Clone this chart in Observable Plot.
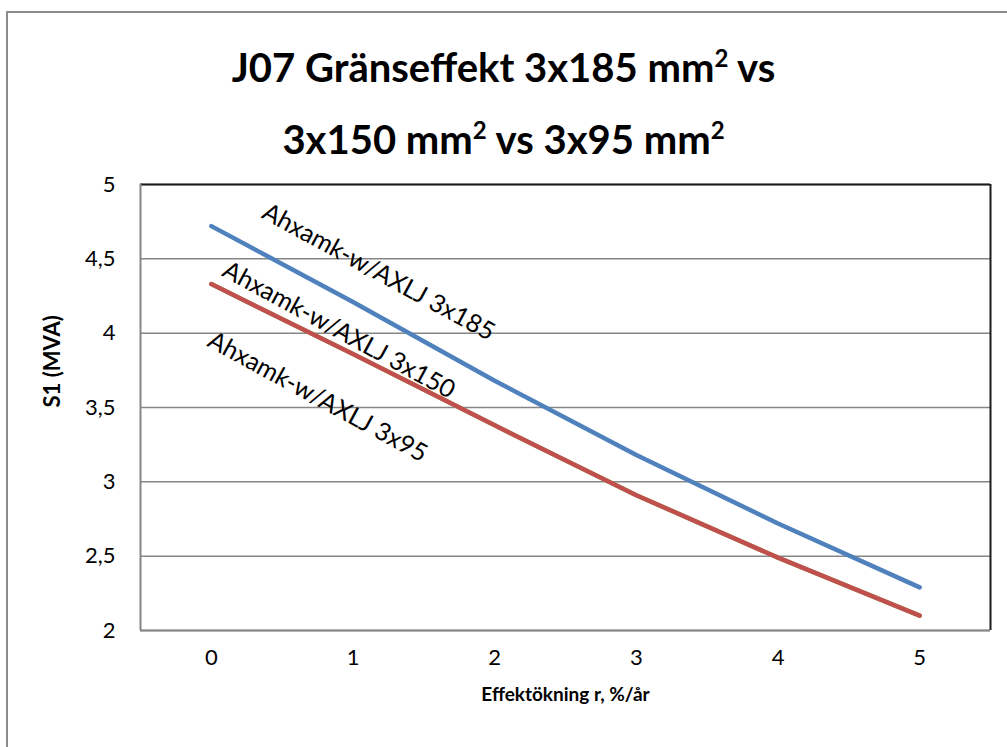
<!DOCTYPE html>
<html><head><meta charset="utf-8">
<script src="https://cdn.jsdelivr.net/npm/d3@7"></script>
<script src="https://cdn.jsdelivr.net/npm/@observablehq/plot@0.6"></script>
<style>
html,body{margin:0;padding:0;background:#fff;overflow:hidden;width:1007px;height:747px;}
#border{position:absolute;left:6px;top:11px;width:1100px;height:800px;border:2px solid #8c8c8c;box-sizing:border-box;}
#title{position:absolute;left:0;top:0;width:1007px;text-align:center;font-family:Lato,sans-serif;font-weight:bold;font-size:40px;line-height:72px;padding-top:31px;color:#000;}
#title sup{font-size:60%;line-height:0;vertical-align:0.62em;}
#chart{position:absolute;left:0;top:170px;}
</style></head>
<body>
<div id="border"></div>
<div id="title">J07 Gränseffekt 3x185 mm<sup>2</sup> vs<br>3x150 mm<sup>2</sup> vs 3x95 mm<sup>2</sup></div>
<div id="chart"></div>
<script>
const rates = [0, 1, 2, 3, 4, 5];
const seriesNames = ["Ahxamk-w/AXLJ 3x185", "Ahxamk-w/AXLJ 3x150", "Ahxamk-w/AXLJ 3x95"];
const s185 = [4.72, 4.21, 3.68, 3.18, 2.72, 2.29];
const s150 = [4.33, 3.86, 3.38, 2.91, 2.49, 2.10];
const s95  = [4.33, 3.86, 3.38, 2.91, 2.49, 2.10];
const seriesColors = ["#4F81BD", "#C0504D", "#9BBB59"];
const yTicks = [2, 2.5, 3, 3.5, 4, 4.5, 5];
const labelX = [1.18, 0.90, 0.75];
const labelY = [4.41, 4.02, 3.57];
const xTitle = "Effektökning r, %/år";
const yTitle = "S1 (MVA)";

const values = [s185, s150, s95];
const rows = [];
// draw 3x95 first so it sits beneath
[2, 1, 0].forEach(i => rates.forEach((r, j) => rows.push({x: r, y: values[i][j], s: seriesNames[i]})));
const labels = seriesNames.map((n, i) => ({x: labelX[i], y: labelY[i], t: n}));
const fmt = d => String(d).replace(".", ",");

const chart = Plot.plot({
  width: 1007,
  height: 577,
  marginLeft: 140,
  marginRight: 17,
  marginTop: 14,
  marginBottom: 117,
  style: {fontFamily: "Lato, sans-serif", fontSize: "22px", color: "#000", background: "transparent"},
  x: {domain: [-0.5, 5.5]},
  y: {domain: [2, 5]},
  color: {domain: seriesNames, range: seriesColors},
  marks: [
    Plot.gridY(yTicks, {stroke: "#868686", strokeOpacity: 1, strokeWidth: 1.5}),
    Plot.ruleY([5], {stroke: "#1a1a1a", strokeWidth: 2}),
    Plot.ruleX([5.5], {stroke: "#1a1a1a", strokeWidth: 2}),
    Plot.ruleX([-0.5], {stroke: "#868686", strokeWidth: 2}),
    Plot.ruleY([2], {stroke: "#868686", strokeWidth: 2}),
    Plot.axisY(yTicks, {tickSize: 0, tickPadding: 25, tickFormat: fmt, label: null, fontSize: 22}),
    Plot.axisX(rates, {tickSize: 0, tickPadding: 19, tickFormat: d => String(d), label: null, fontSize: 22}),
    Plot.line(rows, {x: "x", y: "y", z: "s", stroke: "s", strokeWidth: 4.5, strokeLinecap: "round", strokeLinejoin: "round"}),
    Plot.text(labels, {x: "x", y: "y", text: "t", rotate: 28.5, fontSize: 25, fill: "#000", textAnchor: "middle"}),
    Plot.text([yTitle], {frameAnchor: "left", dx: -88, rotate: -90, fontWeight: "bold", fontSize: 22, fill: "#000"}),
    Plot.text([xTitle], {frameAnchor: "bottom", dy: 70, fontWeight: "bold", fontSize: 19, fill: "#000"})
  ]
});
document.getElementById("chart").appendChild(chart);
</script>
</body></html>
